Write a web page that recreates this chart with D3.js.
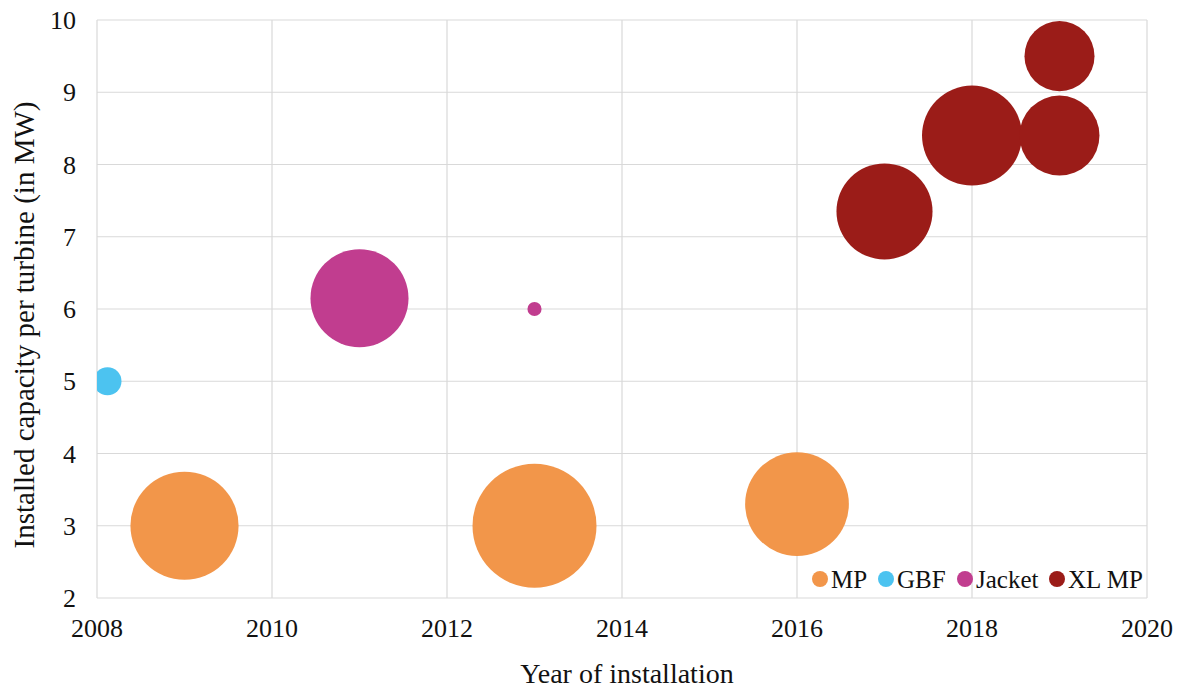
<!DOCTYPE html>
<html>
<head>
<meta charset="utf-8">
<script src="https://cdn.jsdelivr.net/npm/d3@7"></script>
<style>
  body { margin: 0; background: #fff; }
  text { font-family: "Liberation Serif", "Times New Roman", serif; fill: #111; }
</style>
</head>
<body>
<svg id="chart"></svg>
<script>
// data
var types   = ["MP", "GBF", "Jacket", "XL MP"];
var colours = ["#f2964a", "#4cc3f0", "#c13d8f", "#9b1c18"];

var pointType = ["GBF", "MP", "MP", "MP", "Jacket", "Jacket", "XL MP", "XL MP", "XL MP", "XL MP"];
var pointYear = [2008.12, 2009, 2013, 2016, 2011, 2013, 2017, 2018, 2019, 2019];
var pointMW   = [5, 3, 3, 3.3, 6.15, 6, 7.35, 8.4, 8.4, 9.5];
var pointSize = [5.1, 76, 100, 70, 62.5, 1.3, 60, 65, 41.6, 31.9]; // relative bubble area

var xTicks = [2008, 2010, 2012, 2014, 2016, 2018, 2020];
var yTicks = [2, 3, 4, 5, 6, 7, 8, 9, 10];

var width = 1178, height = 688;
var margin = {left: 97, right: 31, top: 20, bottom: 90};

var svg = d3.select("#chart")
    .attr("width", width)
    .attr("height", height);

var x = d3.scaleLinear().domain([2008, 2020]).range([margin.left, width - margin.right]);
var y = d3.scaleLinear().domain([2, 10]).range([height - margin.bottom, margin.top]);
var r = d3.scaleSqrt().domain([0, 100]).range([0, 62]);
var color = d3.scaleOrdinal().domain(types).range(colours);

// gridlines
svg.append("g")
  .selectAll("line")
  .data(xTicks)
  .enter().append("line")
  .attr("x1", d => x(d)).attr("x2", d => x(d))
  .attr("y1", y(2)).attr("y2", y(10))
  .style("stroke", "#d9d9d9").style("stroke-width", 1.2);

svg.append("g")
  .selectAll("line")
  .data(yTicks)
  .enter().append("line")
  .attr("y1", d => y(d)).attr("y2", d => y(d))
  .attr("x1", x(2008)).attr("x2", x(2020))
  .style("stroke", "#d9d9d9").style("stroke-width", 1.2);

// tick labels
svg.append("g")
  .selectAll("text")
  .data(xTicks)
  .enter().append("text")
  .attr("x", d => x(d))
  .attr("y", y(2) + 39)
  .attr("text-anchor", "middle")
  .style("font-size", "26px")
  .text(d => d);

svg.append("g")
  .selectAll("text")
  .data(yTicks)
  .enter().append("text")
  .attr("x", 76)
  .attr("y", d => y(d) + 9)
  .attr("text-anchor", "end")
  .style("font-size", "26px")
  .text(d => d);

// bubbles, clipped to plot area
svg.append("clipPath").attr("id", "plotclip")
  .append("rect")
  .attr("x", x(2008)).attr("y", y(10))
  .attr("width", x(2020) - x(2008))
  .attr("height", y(2) - y(10));

var points = pointYear.map(function(yr, i) {
  return {year: yr, mw: pointMW[i], size: pointSize[i], type: pointType[i]};
});

svg.append("g")
  .attr("clip-path", "url(#plotclip)")
  .selectAll("circle")
  .data(points)
  .enter().append("circle")
  .attr("cx", d => x(d.year))
  .attr("cy", d => y(d.mw))
  .attr("r", d => r(d.size))
  .style("fill", d => color(d.type));

// legend
var legendX = [820, 886, 965, 1057];
var legend = svg.append("g").selectAll("g")
  .data(types)
  .enter().append("g")
  .attr("transform", (d, i) => "translate(" + legendX[i] + "," + 579 + ")");
legend.append("circle")
  .attr("r", 8)
  .style("fill", d => color(d));
legend.append("text")
  .attr("x", 11)
  .attr("y", 9)
  .style("font-size", "25px")
  .text(d => d);

// axis titles
svg.append("text")
  .attr("x", 627)
  .attr("y", 683)
  .attr("text-anchor", "middle")
  .style("font-size", "28px")
  .text("Year of installation");

svg.append("text")
  .attr("transform", "translate(34,325) rotate(-90)")
  .attr("text-anchor", "middle")
  .style("font-size", "29px")
  .text("Installed capacity per turbine (in MW)");
</script>
</body>
</html>
